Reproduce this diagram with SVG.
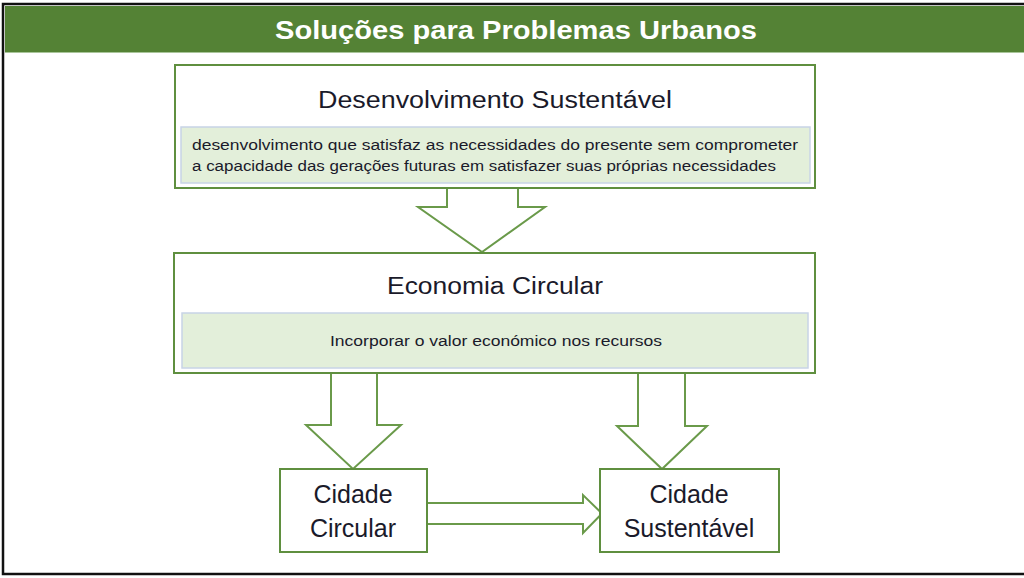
<svg xmlns="http://www.w3.org/2000/svg" width="1024" height="578" viewBox="0 0 1024 578">
<style>
.t{font-family:"Liberation Sans",Arial,sans-serif;fill:#1a1a2a;text-anchor:middle}
.box{fill:#fff;stroke:#5f8f3f;stroke-width:2}
.inner{fill:#e3efda;stroke:#c8d4e6;stroke-width:1.5}
.arr{fill:#fff;stroke:#6a9a4a;stroke-width:2;stroke-linejoin:miter}
</style>
<rect x="0" y="0" width="1024" height="578" fill="#fff"/>
<rect x="3" y="4" width="1030" height="570" fill="#fff" stroke="#111" stroke-width="2.5"/>
<g id="header">
<rect x="5" y="6" width="1019" height="46" fill="#548235"/>
<line x1="5" y1="52.5" x2="1024" y2="52.5" stroke="#a9c59a" stroke-width="1"/>
<text x="516" y="39" font-family="Liberation Sans,Arial,sans-serif" font-weight="bold" font-size="26" fill="#fff" text-anchor="middle" textLength="482" lengthAdjust="spacingAndGlyphs">Soluções para Problemas Urbanos</text>
</g>
<g id="connectors">
<polygon class="arr" points="447,188 518,188 518,207 545,207 482,252 418,207 447,207"/>
<polygon class="arr" points="331,373 377,373 377,425 401,425 353,469 306,425 331,425"/>
<polygon class="arr" points="638,373 685,373 685,426 707,426 662,469 617,426 638,426"/>
<polygon class="arr" points="427,503 583,503 583,495 602,513.5 583,533 583,524 427,524"/>
</g>
<g id="desenvolvimento">
<rect class="box" x="175" y="65" width="640" height="123" stroke="#94b382"/>
<text class="t" x="495" y="108" font-size="23" textLength="354" lengthAdjust="spacingAndGlyphs">Desenvolvimento Sustentável</text>
<rect class="inner" x="181" y="127" width="629" height="56"/>
<text class="t" x="495" y="150" font-size="14" textLength="606" lengthAdjust="spacingAndGlyphs">desenvolvimento que satisfaz as necessidades do presente sem comprometer</text>
<text class="t" x="484" y="171" font-size="14" textLength="584" lengthAdjust="spacingAndGlyphs">a capacidade das gerações futuras em satisfazer suas próprias necessidades</text>
</g>
<g id="economia">
<rect class="box" x="174" y="253" width="641" height="120"/>
<text class="t" x="495" y="294" font-size="23" textLength="216" lengthAdjust="spacingAndGlyphs">Economia Circular</text>
<rect class="inner" x="182" y="313" width="626" height="55"/>
<text class="t" x="496" y="346" font-size="14" textLength="332" lengthAdjust="spacingAndGlyphs">Incorporar o valor económico nos recursos</text>
</g>
<g id="cidade-circular">
<rect class="box" x="280" y="469" width="147" height="83"/>
<text class="t" x="353" y="503" font-size="25">Cidade</text>
<text class="t" x="353" y="537" font-size="25">Circular</text>
</g>
<g id="cidade-sustentavel">
<rect class="box" x="600" y="469" width="179" height="83"/>
<text class="t" x="689" y="503" font-size="25">Cidade</text>
<text class="t" x="689" y="537" font-size="25">Sustentável</text>
</g>
</svg>
